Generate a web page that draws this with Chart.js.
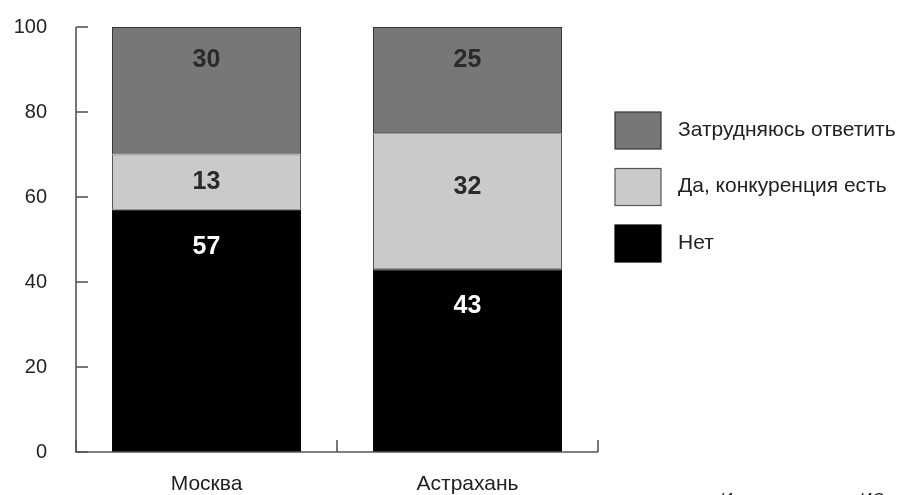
<!DOCTYPE html>
<html>
<head>
<meta charset="utf-8">
<script src="https://cdn.jsdelivr.net/npm/chart.js@4/dist/chart.umd.min.js"></script>
<style>
  html, body { margin: 0; padding: 0; background: #fff; }
  #wrap { width: 905px; height: 495px; position: relative; }
</style>
</head>
<body>
<div id="wrap"><canvas id="c" width="905" height="495"></canvas></div>
<script>
const categories = ['Москва', 'Астрахань'];
const seriesNames = ['Нет', 'Да, конкуренция есть', 'Затрудняюсь ответить'];
const valuesNo = [57, 43];
const valuesYes = [13, 32];
const valuesHard = [30, 25];
const yTicks = [0, 20, 40, 60, 80, 100];
const sourceText = 'Источник: опрос ИС';

const FONT = '"Liberation Sans", Arial, Helvetica, sans-serif';

const customPlugin = {
  id: 'custom',
  afterDatasetsDraw(chart) {
    const ctx = chart.ctx;
    const ca = chart.chartArea;
    const xs = chart.scales.x, ys = chart.scales.y;
    ctx.save();
    // axes
    ctx.strokeStyle = '#555';
    ctx.lineWidth = 1.6;
    ctx.beginPath();
    ctx.moveTo(ca.left, ys.getPixelForValue(100));
    ctx.lineTo(ca.left, ys.getPixelForValue(0));
    ctx.lineTo(ca.right, ys.getPixelForValue(0));
    ctx.stroke();
    // y ticks (inward)
    yTicks.forEach(v => {
      const y = ys.getPixelForValue(v);
      ctx.beginPath();
      ctx.moveTo(ca.left, y);
      ctx.lineTo(ca.left + 12, y);
      ctx.stroke();
    });
    // x boundary ticks (inward)
    const p0 = xs.getPixelForValue(0), p1 = xs.getPixelForValue(1);
    const half = (p1 - p0) / 2;
    for (let i = 0; i <= categories.length; i++) {
      const x = p0 - half + i * 2 * half;
      const yb = ys.getPixelForValue(0);
      ctx.beginPath();
      ctx.moveTo(x, yb);
      ctx.lineTo(x, yb - 12);
      ctx.stroke();
    }
    // data labels
    ctx.font = 'bold 25px ' + FONT;
    ctx.textAlign = 'center';
    ctx.textBaseline = 'middle';
    chart.data.datasets.forEach((ds, di) => {
      const meta = chart.getDatasetMeta(di);
      meta.data.forEach((el, i) => {
        const top = el.y, bot = el.base;
        const h = bot - top;
        let y;
        if (di === 1) y = top + Math.min(h / 2, 54);
        else if (di === 2) y = top + 33;
        else y = top + Math.min(37, h / 2);
        ctx.fillStyle = ds.labelColor;
        ctx.fillText(String(ds.data[i]), el.x, y);
      });
    });
    // legend (reverse order)
    const lx = ca.right + 17;
    const order = [2, 1, 0];
    ctx.font = '21px ' + FONT;
    ctx.textAlign = 'left';
    order.forEach((di, k) => {
      const ds = chart.data.datasets[di];
      const top = 112 + k * 56.5;
      ctx.fillStyle = ds.backgroundColor;
      ctx.fillRect(lx, top, 46, 37);
      ctx.strokeStyle = ds.borderColor;
      ctx.lineWidth = 1.2;
      ctx.strokeRect(lx, top, 46, 37);
      ctx.fillStyle = '#222';
      ctx.fillText(ds.label, lx + 63, top + 18);
    });
    // source (cut off at bottom)
    ctx.font = 'italic 17px ' + FONT;
    ctx.fillStyle = '#222';
    ctx.textBaseline = 'alphabetic';
    ctx.fillText(sourceText, 720, 505);
    ctx.restore();
  }
};

new Chart(document.getElementById('c'), {
  type: 'bar',
  data: {
    labels: categories,
    datasets: [
      { label: seriesNames[0], data: valuesNo, backgroundColor: '#000000', borderColor: '#000000', borderWidth: 1, labelColor: '#ffffff' },
      { label: seriesNames[1], data: valuesYes, backgroundColor: '#cacaca', borderColor: '#555555', borderWidth: 1, labelColor: '#2a2a2a' },
      { label: seriesNames[2], data: valuesHard, backgroundColor: '#777777', borderColor: '#333333', borderWidth: 1, labelColor: '#2a2a2a' }
    ]
  },
  options: {
    responsive: false,
    animation: false,
    events: [],
    layout: { padding: { left: 0, right: 307, top: 27, bottom: 0 } },
    datasets: { bar: { barPercentage: 0.724, categoryPercentage: 1.0, borderSkipped: false } },
    plugins: { legend: { display: false }, tooltip: { enabled: false } },
    scales: {
      x: {
        stacked: true,
        grid: { display: false, drawTicks: false },
        border: { display: false },
        ticks: { color: '#222', font: { family: FONT, size: 21 }, padding: 20 },
        afterFit(s) { s.height = 43; s.paddingLeft = 0; s.paddingRight = 0; }
      },
      y: {
        stacked: true,
        min: 0, max: 100,
        afterBuildTicks(s) { s.ticks = yTicks.map(v => ({ value: v })); },
        grid: { display: false, drawTicks: false },
        border: { display: false },
        ticks: { color: '#222', font: { family: FONT, size: 20 }, padding: 29 },
        afterFit(s) { s.width = 76; s.paddingTop = 12; s.paddingBottom = 12; }
      }
    }
  },
  plugins: [customPlugin]
});
</script>
</body>
</html>
